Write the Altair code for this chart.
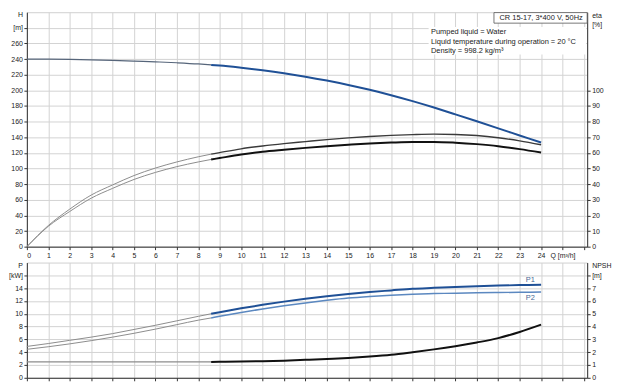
import altair as alt
import pandas as pd

# ---------------- data ----------------
Q = [0, 1, 2, 3, 4, 5, 6, 7, 8, 8.6, 9, 10, 11, 12, 13, 14, 15, 16, 17, 18, 19, 20, 21, 22, 23, 24]
H = [240, 239.9, 239.6, 239.1, 238.4, 237.5, 236.5, 235.3, 233.8, 232.6, 231.8, 229, 225.7, 221.9,
     217.5, 212.5, 206.9, 200.7, 193.8, 186.2, 178, 169.3, 160.4, 151.4, 142.3, 133.2]
ETA_1 = [0, 13.5, 24, 33, 39.5, 45.5, 50.3, 54.2, 57.5, 59.2, 60.2, 62.6, 64.4, 65.9,
         67.2, 68.5, 69.6, 70.5, 71.2, 71.7, 72, 71.8, 71.1, 69.7, 67.7, 65.2]
ETA_2 = [0, 13, 22.5, 31, 37.3, 43, 47.5, 51.2, 54.2, 55.8, 56.7, 58.9, 60.7, 62,
         63.2, 64.3, 65.2, 66, 66.6, 67, 67, 66.5, 65.6, 64.3, 62.4, 60.2]
P1 = [4.9, 5.35, 5.85, 6.35, 6.9, 7.55, 8.2, 8.9, 9.6, 10.0, 10.25, 10.85, 11.4, 11.9,
      12.35, 12.75, 13.1, 13.4, 13.65, 13.9, 14.05, 14.2, 14.3, 14.4, 14.48, 14.55]
P2 = [4.45, 4.85, 5.3, 5.8, 6.35, 6.95, 7.6, 8.3, 9.0, 9.35, 9.6, 10.2, 10.75, 11.25,
      11.7, 12.1, 12.45, 12.7, 12.9, 13.05, 13.15, 13.22, 13.28, 13.32, 13.36, 13.4]
Q_NPSH = [0, 8.6, 9, 10, 11, 12, 13, 14, 15, 16, 17, 18, 19, 20, 21, 22, 23, 24]
NPSH = [1.24, 1.24, 1.25, 1.27, 1.3, 1.34, 1.4, 1.47, 1.55, 1.66, 1.8, 2.0, 2.22, 2.47,
        2.76, 3.1, 3.58, 4.15]
SPLIT_Q = 8.6

TITLE_BOX = "CR 15-17, 3*400 V, 50Hz"
INFO_LINES = ["Pumped liquid = Water",
              "Liquid temperature during operation = 20 °C",
              "Density = 998.2 kg/m³"]
CURVE_LABELS = ["P1", "P2"]

X_TICKS = list(range(0, 27))
H_TICKS = list(range(0, 281, 20)) + [297]
ETA_TICKS = list(range(0, 101, 10)) + [142, 148]
P_TICKS = list(range(0, 17, 2)) + [17.5]
NPSH_TICKS = list(range(0, 9)) + [8.75]

FONT = "Liberation Sans"
GRID = "#d3d3d3"
AXC = "#333333"
BLUE = "#1f5096"
BLUE2 = "#5b88c0"
GREY = "#8c8c8c"


def seg(qs, vs, part):
    if part == "ext":
        rows = [(q, v) for q, v in zip(qs, vs) if q <= SPLIT_Q]
    else:
        rows = [(q, v) for q, v in zip(qs, vs) if q >= SPLIT_Q]
    return pd.DataFrame(rows, columns=["Q", "v"])


def axis(**kw):
    base = dict(domainColor=AXC, labelColor="#222222", labelFont=FONT, labelFontSize=7,
                tickSize=3, labelPadding=1.5, title=None, gridColor=GRID, gridWidth=1)
    base.update(kw)
    return alt.Axis(**base)


x_top = alt.X("Q:Q", scale=alt.Scale(domain=[0, 26.15], nice=False, zero=False),
              axis=axis(values=X_TICKS, format="d", grid=True, tickColor=AXC,
                        labelExpr="datum.value == 25 ? 'Q [m³/h]' : datum.value == 26 ? '' : datum.label"))
x_bot = alt.X("Q:Q", scale=alt.Scale(domain=[0, 26.15], nice=False, zero=False),
              axis=axis(values=X_TICKS, grid=True, labels=False, tickColor=AXC))

y_h = alt.Y("v:Q", scale=alt.Scale(domain=[0, 300], nice=False),
            axis=axis(values=H_TICKS, orient="left", grid=True,
                      labelExpr="datum.value > 290 ? 'H' : datum.value == 280 ? '[m]' : datum.label",
                      tickColor={"condition": {"test": "datum.value > 290", "value": "transparent"}, "value": AXC},
                      gridColor={"condition": {"test": "datum.value > 290", "value": "transparent"}, "value": GRID}))
y_eta = alt.Y("v:Q", scale=alt.Scale(domain=[0, 150], nice=False),
              axis=axis(values=ETA_TICKS, orient="right", grid=False,
                        labelExpr="datum.value == 148 ? 'eta' : datum.value == 142 ? '[%]' : datum.label",
                        tickColor={"condition": {"test": "datum.value > 100", "value": "transparent"}, "value": AXC}))
y_p = alt.Y("v:Q", scale=alt.Scale(domain=[0, 18], nice=False),
            axis=axis(values=P_TICKS, orient="left", grid=True,
                      labelExpr="datum.value == 17.5 ? 'P' : datum.value == 16 ? '[kW]' : datum.label",
                      tickColor={"condition": {"test": "datum.value > 17", "value": "transparent"}, "value": AXC},
                      gridColor={"condition": {"test": "datum.value > 17", "value": "transparent"}, "value": GRID}))
y_npsh = alt.Y("v:Q", scale=alt.Scale(domain=[0, 9], nice=False),
               axis=axis(values=NPSH_TICKS, orient="right", grid=False,
                         labelExpr="datum.value == 8.75 ? 'NPSH' : datum.value == 8 ? '[m]' : datum.label",
                         tickColor={"condition": {"test": "datum.value > 8.5", "value": "transparent"}, "value": AXC}))


def line(df, x, y, color, width):
    return alt.Chart(df).mark_line(color=color, strokeWidth=width, interpolate="monotone").encode(x=x, y=y)


# ---------------- top panel ----------------
box_df = pd.DataFrame({"Q": [21.8], "Q2": [26.15], "v": [286], "v2": [299.5]})
info_bg_df = pd.DataFrame({"Q": [18.75], "Q2": [26.1], "v": [246], "v2": [281]})
title_df = pd.DataFrame({"Q": [24.0], "v": [292.7], "txt": [TITLE_BOX]})
info_df = pd.DataFrame({"Q": [18.86] * 3, "v": [274.5, 262.5, 250.5], "txt": INFO_LINES})

left_top = alt.layer(
    alt.Chart(info_bg_df).mark_rect(fill="white").encode(x=x_top, x2="Q2:Q", y=y_h, y2="v2:Q"),
    line(seg(Q, H, "ext"), x_top, y_h, "#56657a", 1.2),
    line(seg(Q, H, "main"), x_top, y_h, BLUE, 2),
    alt.Chart(box_df).mark_rect(fill="white", stroke="#555555", strokeWidth=0.8).encode(
        x=x_top, x2="Q2:Q", y=y_h, y2="v2:Q"),
    alt.Chart(title_df).mark_text(font=FONT, fontSize=7.5, color="#222222", align="center",
                                  baseline="middle").encode(x=x_top, y=y_h, text="txt:N"),
    alt.Chart(info_df).mark_text(font=FONT, fontSize=7.5, color="#222222", align="left",
                                 baseline="middle").encode(x=x_top, y=y_h, text="txt:N"),
)
right_top = alt.layer(
    line(seg(Q, ETA_1, "ext"), x_top, y_eta, GREY, 1),
    line(seg(Q, ETA_1, "main"), x_top, y_eta, "#3a3a3a", 1.4),
    line(seg(Q, ETA_2, "ext"), x_top, y_eta, GREY, 1),
    line(seg(Q, ETA_2, "main"), x_top, y_eta, "#111111", 2),
)
top = alt.layer(left_top, right_top).resolve_scale(y="independent").properties(width=564, height=236)

# ---------------- bottom panel ----------------
lab_df = pd.DataFrame({"Q": [23.5, 23.5], "v": [15.3, 12.5], "txt": CURVE_LABELS})
left_bot = alt.layer(
    line(seg(Q, P1, "ext"), x_bot, y_p, GREY, 1),
    line(seg(Q, P2, "ext"), x_bot, y_p, GREY, 1),
    line(seg(Q, P1, "main"), x_bot, y_p, BLUE, 2),
    line(seg(Q, P2, "main"), x_bot, y_p, BLUE2, 1.5),
    alt.Chart(lab_df).mark_text(font=FONT, fontSize=7.5, color="#4a6a96", align="center",
                                baseline="middle").encode(x=x_bot, y=y_p, text="txt:N"),
)
right_bot = alt.layer(
    line(seg(Q_NPSH, NPSH, "ext"), x_bot, y_npsh, GREY, 1.2),
    line(seg(Q_NPSH, NPSH, "main"), x_bot, y_npsh, "#111111", 2),
)
bottom = alt.layer(left_bot, right_bot).resolve_scale(y="independent").properties(width=564, height=116)

chart = (
    alt.vconcat(top, bottom, spacing=2)
    .properties(padding=0, background="white")
    .configure_view(stroke="#d0d0d0")
)
chart.save("out.html", embed_options={"renderer": "svg", "actions": False})
